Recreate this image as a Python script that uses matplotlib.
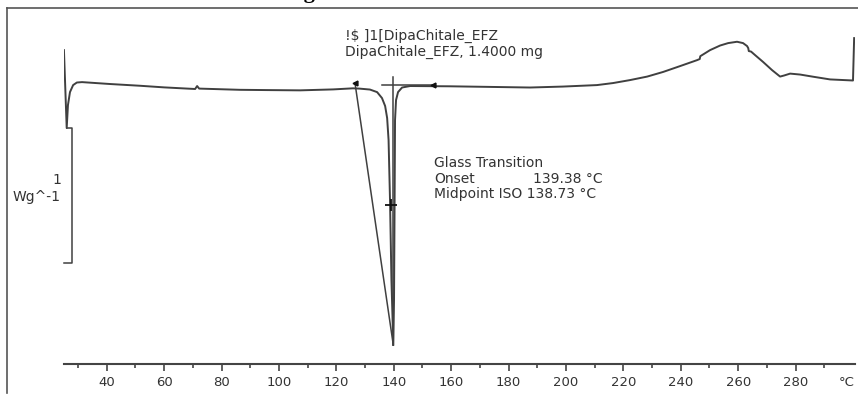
import matplotlib.pyplot as plt
from matplotlib.lines import Line2D

# DSC trace, temperature (degC) vs heat flow (W/g, arbitrary offset)
temp = [25.1, 26.06, 26.5, 27.2, 28.3, 29.6, 31.4, 41.1, 51.6, 60.0, 70.8, 71.5, 72.2,
        86.4, 95.9, 107.4, 118.9, 125.8, 128.0, 131.7, 134.2, 135.9, 137.0, 137.7,
        138.2, 138.7, 139.2, 139.85, 140.1, 140.3, 140.45, 140.8, 141.5, 142.9, 145.7,
        159.6, 187.5, 198.9, 210.8, 216.4, 222.3, 228.3, 233.8, 239.8, 245.7, 246.6,
        246.8, 250.2, 253.7, 256.5, 259.6, 261.7, 263.1, 263.5, 263.7, 264.5, 265.9,
        268.7, 271.8, 274.6, 276.0, 278.1, 281.6, 286.1, 292.0, 300.0, 300.4]
heat = [0.281, -0.296, -0.126, -0.030, 0.022, 0.041, 0.044, 0.030, 0.017, 0.005, -0.007,
        0.015, -0.004, -0.013, -0.015, -0.017, -0.010, -0.002, -0.004, -0.011, -0.030,
        -0.074, -0.133, -0.222, -0.385, -0.830, -1.422, -1.904, -1.570, -0.830, -0.237,
        -0.089, -0.030, 0.004, 0.015, 0.013, 0.004, 0.011, 0.022, 0.037, 0.059, 0.085,
        0.119, 0.163, 0.207, 0.215, 0.236, 0.281, 0.315, 0.333, 0.343, 0.333, 0.311,
        0.296, 0.274, 0.270, 0.244, 0.193, 0.133, 0.085, 0.093, 0.107, 0.100, 0.084,
        0.064, 0.056, 0.370]

# glass transition evaluation
tangent_t = [126.5, 139.85]
tangent_h = [0.037, -1.904]
base_t = [135.8, 153.7]
base_h = [0.022, 0.022]
vert_t = [139.85, 139.85]
vert_h = [0.081, -1.904]
limit_t = [126.5, 153.7]
limit_h = [0.037, 0.022]
mid_t = 139.1
mid_h = -0.867

xticks = [40, 60, 80, 100, 120, 140, 160, 180, 200, 220, 240, 260, 280]
minor = [30, 50, 70, 90, 110, 130, 150, 170, 190, 210, 230, 250, 270, 290]

W, H = 858, 394
fig = plt.figure(figsize=(W / 100, H / 100), dpi=100)
ax = fig.add_axes([64 / W, (H - 364) / H, (855 - 64) / W, (364 - 8) / H])

col = '#404040'
ax.plot(temp, heat, color=col, lw=1.4)
ax.plot(tangent_t, tangent_h, color=col, lw=1.1)
ax.plot(base_t, base_h, color=col, lw=1.1)
ax.plot(vert_t, vert_h, color=col, lw=1.1)
ax.plot(limit_t, limit_h, ls='none', marker='<', ms=3.5, color='#111111')
ax.plot(mid_t, mid_h, marker='+', ms=8, mew=1.3, color='#111111')

# scale bar 1 W/g
ax.plot([26.06, 27.9, 27.9, 25.1], [-0.296, -0.296, -1.296, -1.296], color=col, lw=1.1,
        clip_on=False)

ax.set_xlim(25.12, 300.7)
ax.set_ylim(-2.044, 0.593)
for s in ['left', 'top', 'right']:
    ax.spines[s].set_visible(False)
ax.spines['bottom'].set_color('#444444')
ax.spines['bottom'].set_linewidth(1.5)
ax.set_yticks([])
ax.set_xticks(xticks)
ax.set_xticks(minor, minor=True)
ax.tick_params(axis='x', which='major', length=5, width=1.2, color='#444444',
               labelsize=9.5, labelcolor='#333333', pad=4)
ax.tick_params(axis='x', which='minor', length=3, width=1.2, color='#444444')
ax.text(1.0, -0.0506, '°C', transform=ax.transAxes, ha='right',
        va='center', fontsize=9.5, color='#333333')

def px(x, y):
    return x / W, 1 - y / H

txt = dict(fontsize=10, color='#333333', va='center')
fig.text(*px(345, 36), '!$ ]1[DipaChitale_EFZ', **txt)
fig.text(*px(345, 52), 'DipaChitale_EFZ, 1.4000 mg', **txt)
fig.text(*px(434, 163), 'Glass Transition', **txt)
fig.text(*px(434, 179), 'Onset', **txt)
fig.text(*px(533, 179), '139.38 °C', **txt)
fig.text(*px(434, 194), 'Midpoint ISO 138.73 °C', **txt)
fig.text(*px(61, 180), '1', ha='right', **txt)
fig.text(*px(61, 197), 'Wg^-1', ha='right', **txt)

# caption above the frame, cut off by the crop of the original
fig.text(*px(355, -1.5), 'DSC thermogram', ha='right', va='baseline', fontsize=16,
         fontweight='bold', family='Liberation Serif', color='black')

# outer frame
fig.add_artist(Line2D([7 / W, 7 / W], [1 - 8 / H, 1 - 393 / H], color='#555555', lw=1.2))
fig.add_artist(Line2D([7 / W, 1], [1 - 8 / H, 1 - 8 / H], color='#555555', lw=1.2))

fig.savefig('out.png', dpi=100)
